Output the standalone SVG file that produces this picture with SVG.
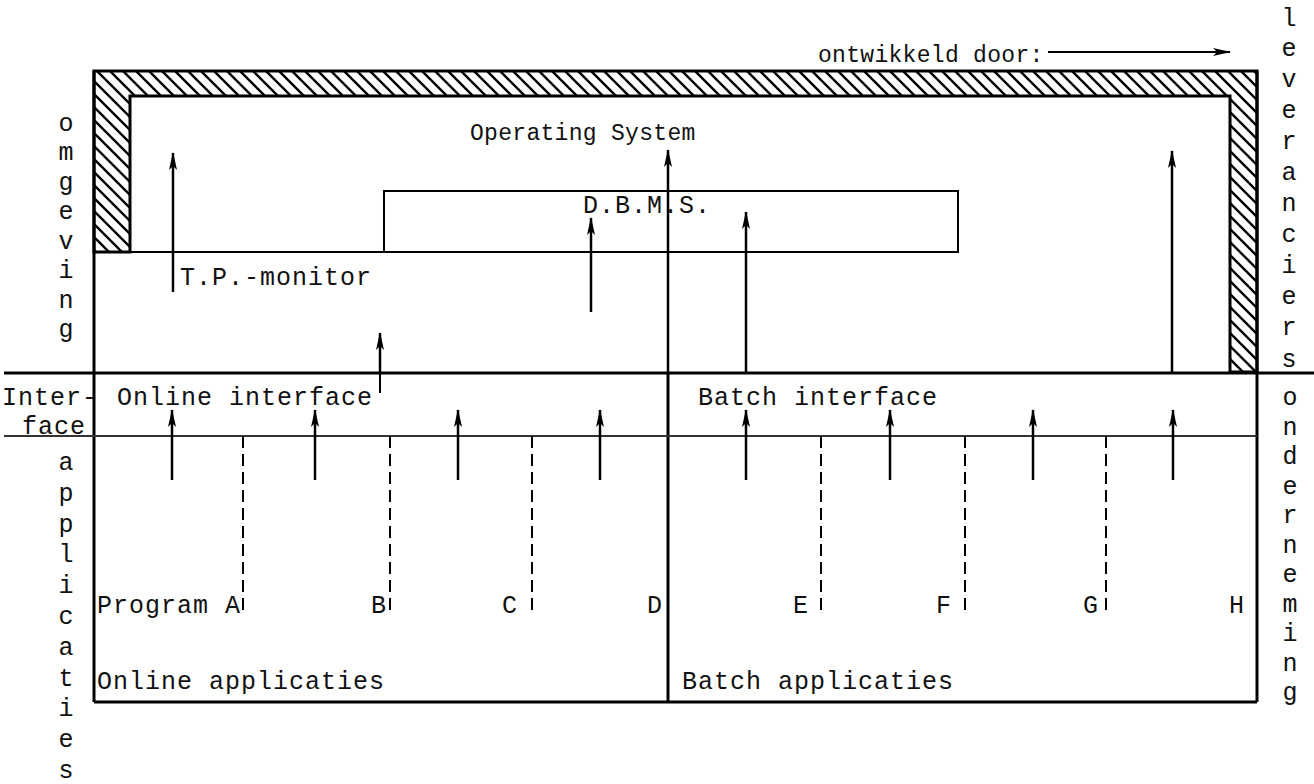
<svg xmlns="http://www.w3.org/2000/svg" width="1314" height="784" viewBox="0 0 1314 784">
<defs>
  <pattern id="hatch" patternUnits="userSpaceOnUse" width="13" height="13">
    <path d="M-2,-2 L15,15 M-2,11 L2,15 M11,-2 L15,2" stroke="#000" stroke-width="2.4"/>
  </pattern>
  <marker id="ah" markerUnits="userSpaceOnUse" markerWidth="18" markerHeight="10" refX="17" refY="5" orient="auto" viewBox="0 0 18 10">
    <path d="M18,5 L0,1 L4,5 L0,9 Z" fill="#000"/>
  </marker>
  <style>
    .t{font-family:"Liberation Mono","DejaVu Sans Mono",monospace;font-size:25px;letter-spacing:1px;fill:#111}
    .s{font-family:"Liberation Mono","DejaVu Sans Mono",monospace;font-size:23px;letter-spacing:0.3px;fill:#111}
    .v{font-family:"Liberation Mono","DejaVu Sans Mono",monospace;font-size:25px;fill:#111;text-anchor:middle}
    .thick{stroke:#000;stroke-width:3;fill:none}
    .ln{stroke:#000;stroke-width:2;fill:none}
    .gray{stroke:#333;stroke-width:2;fill:none}
    .dash{stroke:#000;stroke-width:2;fill:none;stroke-dasharray:12 6}
    .arr{stroke:#000;stroke-width:2.5;fill:none;marker-end:url(#ah)}
  </style>
</defs>
<rect width="1314" height="784" fill="#fff"/>

<g id="vendor-layer">
  <path d="M94,71 H1257 V372 H1230 V96 H130 V252 H94 Z" fill="url(#hatch)"/>
  <path d="M94,71 H1257 V372 H1230 V96 H130 V252 H94 Z" class="thick"/>
</g>

<g id="frame">
  <line x1="94" y1="71" x2="94" y2="702" class="thick"/>
  <line x1="1257" y1="71" x2="1257" y2="702" class="thick"/>
  <line x1="94" y1="702" x2="1257" y2="702" class="thick"/>
  <line x1="668" y1="372" x2="668" y2="702" class="thick"/>
</g>

<g id="operating-system">
  <text class="s" x="470" y="140">Operating System</text>
</g>

<g id="tp-monitor">
  <line x1="94" y1="252" x2="384" y2="252" class="ln"/>
  <text class="t" x="180" y="285">T.P.-monitor</text>
</g>

<g id="dbms">
  <path d="M384,252 V191 H958 V252 H384" class="ln"/>
  <text class="t" x="583" y="213">D.B.M.S.</text>
</g>

<g id="interface">
  <line x1="4" y1="373" x2="1314" y2="373" class="thick"/>
  <line x1="4" y1="436" x2="1257" y2="436" class="gray"/>
  <line x1="380" y1="373" x2="380" y2="393" class="ln"/>
  <text class="t" x="2" y="405">Inter-</text>
  <text class="t" x="22" y="434">face</text>
  <text class="t" x="117" y="405">Online interface</text>
  <text class="t" x="698" y="405">Batch interface</text>
</g>

<g id="applications">
  <text class="t" x="97" y="613">Program A</text>
  <text class="t" x="371" y="613">B</text>
  <text class="t" x="502" y="613">C</text>
  <text class="t" x="647" y="613">D</text>
  <text class="t" x="793" y="613">E</text>
  <text class="t" x="936" y="613">F</text>
  <text class="t" x="1083" y="613">G</text>
  <text class="t" x="1229" y="613">H</text>
  <text class="t" x="97" y="689">Online applicaties</text>
  <text class="t" x="682" y="689">Batch applicaties</text>
</g>

<g id="program-boundaries">
  <line x1="243" y1="436" x2="243" y2="612" class="dash"/>
  <line x1="390" y1="436" x2="390" y2="612" class="dash"/>
  <line x1="532" y1="436" x2="532" y2="612" class="dash"/>
  <line x1="821" y1="436" x2="821" y2="612" class="dash"/>
  <line x1="965" y1="436" x2="965" y2="612" class="dash"/>
  <line x1="1106" y1="436" x2="1106" y2="612" class="dash"/>
</g>

<g id="side-labels">
  <text class="s" x="818" y="62">ontwikkeld door:</text>
  <text class="v">
    <tspan x="66" y="131">o</tspan><tspan x="66" y="160">m</tspan><tspan x="66" y="190">g</tspan><tspan x="66" y="219">e</tspan><tspan x="66" y="249">v</tspan><tspan x="66" y="278">i</tspan><tspan x="66" y="308">n</tspan><tspan x="66" y="337">g</tspan>
  </text>
  <text class="v">
    <tspan x="66" y="470">a</tspan><tspan x="66" y="501">p</tspan><tspan x="66" y="532">p</tspan><tspan x="66" y="562">l</tspan><tspan x="66" y="593">i</tspan><tspan x="66" y="624">c</tspan><tspan x="66" y="655">a</tspan><tspan x="66" y="686">t</tspan><tspan x="66" y="716">i</tspan><tspan x="66" y="747">e</tspan><tspan x="66" y="778">s</tspan>
  </text>
  <text class="v">
    <tspan x="1289" y="26">l</tspan><tspan x="1289" y="56">e</tspan><tspan x="1289" y="87">v</tspan><tspan x="1289" y="118">e</tspan><tspan x="1289" y="149">r</tspan><tspan x="1289" y="180">a</tspan><tspan x="1289" y="211">n</tspan><tspan x="1289" y="242">c</tspan><tspan x="1289" y="273">i</tspan><tspan x="1289" y="304">e</tspan><tspan x="1289" y="335">r</tspan><tspan x="1289" y="367">s</tspan>
  </text>
  <text class="v">
    <tspan x="1290" y="405">o</tspan><tspan x="1290" y="435">n</tspan><tspan x="1290" y="464">d</tspan><tspan x="1290" y="494">e</tspan><tspan x="1290" y="523">r</tspan><tspan x="1290" y="553">n</tspan><tspan x="1290" y="582">e</tspan><tspan x="1290" y="612">m</tspan><tspan x="1290" y="641">i</tspan><tspan x="1290" y="671">n</tspan><tspan x="1290" y="700">g</tspan>
  </text>
</g>

<g id="connectors">
  <line x1="1048" y1="52" x2="1230" y2="52" class="arr" style="stroke-width:2"/>
  <line x1="668" y1="372" x2="668" y2="150" class="arr"/>
  <line x1="173" y1="292" x2="173" y2="153" class="arr"/>
  <line x1="591" y1="312" x2="591" y2="218" class="arr"/>
  <line x1="746" y1="373" x2="746" y2="212" class="arr"/>
  <line x1="1172" y1="373" x2="1172" y2="151" class="arr"/>
  <line x1="380" y1="373" x2="380" y2="333" class="arr"/>
  <line x1="172" y1="480" x2="172" y2="410" class="arr"/>
  <line x1="315" y1="480" x2="315" y2="410" class="arr"/>
  <line x1="458" y1="480" x2="458" y2="410" class="arr"/>
  <line x1="600" y1="480" x2="600" y2="410" class="arr"/>
  <line x1="746" y1="480" x2="746" y2="410" class="arr"/>
  <line x1="890" y1="480" x2="890" y2="410" class="arr"/>
  <line x1="1033" y1="480" x2="1033" y2="410" class="arr"/>
  <line x1="1173" y1="480" x2="1173" y2="410" class="arr"/>
</g>
</svg>
